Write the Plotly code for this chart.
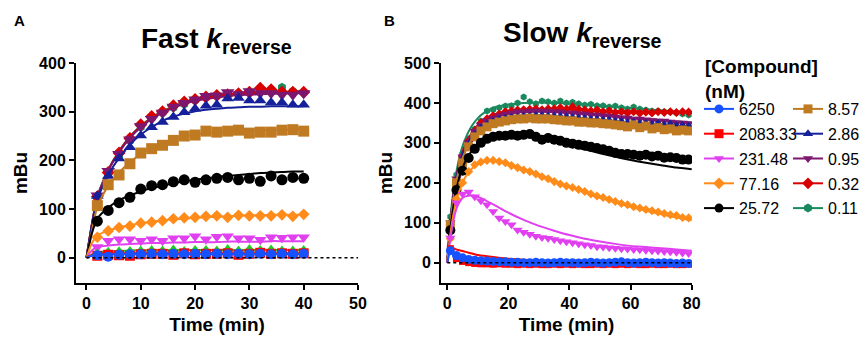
import plotly.graph_objects as go

# ---------------- data ----------------
# Panel A (Fast k_reverse): time points and measured values
t_a = [2, 4, 6, 8, 10, 12, 14, 16, 18, 20, 22, 24, 26, 28, 30, 32, 34, 36, 38, 40]
a_6250 = [5, 2, 6, 7, 7, 8, 7, 8, 7, 8, 7, 8, 7, 8, 7, 8, 7, 8, 7, 8]
a_2083 = [4, 6, 5, 4, 7, 8, 8, 6, 9, 7, 8, 8, 9, 6, 8, 10, 8, 9, 8, 9]
a_green = [9, 12, 13, 14, 15, 16, 15, 17, 14, 16, 16, 15, 18, 15, 18, 16, 17, 15, 15, 16]
a_231 = [22, 35, 38, 38, 35, 38, 35, 40, 40, 44, 38, 43, 44, 40, 40, 37, 42, 41, 42, 42]
a_77 = [42, 55, 62, 65, 71, 73, 76, 80, 82, 83, 85, 86, 83, 87, 86, 86, 86, 88, 85, 89]
a_25 = [75, 97, 113, 124, 141, 148, 150, 156, 160, 155, 160, 163, 165, 160, 163, 157, 168, 160, 165, 163]
a_8 = [107, 150, 170, 193, 215, 224, 231, 241, 250, 252, 260, 258, 260, 262, 256, 258, 258, 262, 263, 260]
a_286 = [127, 168, 204, 227, 251, 268, 279, 289, 299, 306, 312, 314, 327, 328, 323, 323, 319, 319, 314, 314]
a_095 = [128, 178, 213, 243, 270, 285, 298, 310, 318, 325, 332, 333, 340, 336, 342, 338, 338, 335, 335, 338]
a_032 = [125, 175, 215, 245, 273, 290, 300, 312, 320, 325, 330, 333, 335, 337, 340, 348, 345, 340, 340, 340]
a_011 = [122, 172, 210, 240, 268, 287, 298, 308, 315, 323, 330, 333, 335, 338, 340, 343, 342, 350, 342, 340]

# Panel A fitted curves
t_fa = [0, 1, 2, 4, 6, 8, 10, 12, 14, 16, 18, 20, 22, 24, 26, 28, 30, 32, 34, 36, 38, 40]
fa_6250 = [0, 4, 6, 7, 7, 7, 7, 7, 7, 7, 7, 7, 7, 7, 7, 7, 7, 7, 7, 7, 7, 7]
fa_2083 = [0, 5, 8, 9, 9, 9, 9, 9, 9, 9, 9, 9, 9, 9, 9, 9, 9, 9, 9, 9, 9, 9]
fa_green = [0, 7, 11, 13, 14, 15, 15, 15, 16, 16, 16, 16, 16, 16, 16, 16, 16, 16, 16, 16, 16, 16]
fa_231 = [0, 15, 22, 25, 27, 28, 29, 30, 30, 31, 31, 32, 32, 32, 33, 33, 33, 33, 34, 34, 34, 34]
fa_77 = [0, 30, 45, 56, 62, 67, 71, 74, 77, 79, 80, 82, 83, 84, 85, 86, 87, 87, 88, 88, 88, 88]
fa_25 = [0, 50, 80, 103, 118, 128, 136, 143, 148, 153, 157, 160, 163, 166, 168, 170, 172, 174, 175, 176, 177, 177]
fa_8 = [0, 55, 105, 148, 175, 196, 213, 226, 236, 243, 249, 253, 256, 258, 260, 261, 262, 262, 263, 263, 263, 263]
fa_286 = [0, 66, 120, 170, 205, 232, 253, 268, 281, 290, 296, 301, 304, 306, 308, 309, 310, 310, 311, 311, 311, 311]
fa_095 = [0, 68, 124, 179, 216, 246, 268, 285, 298, 308, 316, 322, 326, 329, 332, 334, 335, 336, 337, 337, 338, 338]
fa_032 = [0, 69, 125, 180, 218, 248, 270, 287, 300, 310, 318, 324, 328, 331, 334, 336, 337, 338, 339, 340, 340, 341]
fa_011 = [0, 70, 126, 181, 219, 249, 271, 288, 301, 311, 319, 325, 329, 332, 335, 337, 338, 339, 340, 341, 341, 342]

# Panel B (Slow k_reverse): time points and measured values
t_b = [1, 3, 5, 7, 9, 11, 13, 15, 17, 19, 21, 23, 25, 27, 29, 31, 33, 35, 37, 39,
       41, 43, 45, 47, 49, 51, 53, 55, 57, 59, 61, 63, 65, 67, 69, 71, 73, 75, 77, 79]
b_6250 = [30, 18, 12, 8, 6, 5, 4, 3, 2, 2, 1, 1, 0, 0, 1, 0, -1, 0, 1, 0,
          0, -1, 0, 1, 0, -1, 0, 1, 2, 0, -1, 0, 1, 0, -1, 0, -1, -2, -1, -2]
b_2083 = [35, 10, 3, 0, -2, -3, -3, -4, -3, -4, -4, -5, -4, -5, -4, -5, -5, -4, -5, -4,
          -5, -4, -5, -5, -4, -5, -4, -5, -4, -5, -4, -5, -5, -4, -5, -5, -4, -5, -5, -4]
b_231 = [62, 150, 172, 177, 165, 155, 145, 128, 112, 103, 95, 82, 76, 71, 66, 63, 61, 58, 55, 52,
         50, 47, 45, 43, 40, 39, 37, 36, 35, 34, 33, 32, 31, 30, 29, 28, 27, 26, 24, 23]
b_77 = [60, 160, 200, 228, 245, 252, 256, 256, 253, 250, 243, 238, 232, 228, 222, 215, 210, 203, 197, 192,
        188, 183, 178, 172, 167, 163, 158, 153, 148, 145, 140, 137, 133, 130, 127, 123, 120, 118, 113, 112]
b_25 = [81, 182, 230, 262, 285, 300, 310, 315, 318, 318, 320, 318, 320, 322, 315, 308, 312, 308, 305, 300,
        298, 295, 293, 290, 287, 284, 280, 275, 272, 272, 270, 268, 270, 266, 268, 263, 264, 262, 258, 258]
b_8 = [95, 200, 250, 290, 315, 330, 340, 348, 352, 355, 358, 360, 360, 362, 360, 360, 360, 358, 357, 355,
       355, 352, 352, 350, 350, 348, 347, 345, 343, 340, 345, 338, 342, 335, 338, 333, 335, 330, 332, 330]
b_286 = [100, 205, 258, 295, 320, 338, 348, 355, 360, 362, 365, 366, 368, 368, 370, 370, 368, 368, 367, 366,
         365, 363, 362, 360, 360, 358, 358, 355, 355, 352, 352, 350, 350, 348, 350, 346, 348, 344, 345, 343]
b_095 = [100, 210, 265, 300, 330, 345, 355, 362, 368, 372, 375, 378, 378, 380, 380, 380, 380, 378, 378, 375,
         375, 373, 372, 370, 370, 368, 367, 365, 363, 362, 360, 360, 358, 356, 355, 355, 352, 350, 350, 348]
b_032 = [100, 205, 265, 305, 330, 350, 360, 368, 372, 378, 380, 382, 383, 384, 385, 383, 385, 385, 388, 384,
         390, 384, 382, 380, 382, 378, 380, 376, 378, 375, 378, 374, 377, 375, 378, 376, 378, 376, 378, 377]
b_011 = [115, 220, 272, 310, 335, 355, 380, 383, 388, 392, 393, 400, 415, 403, 398, 405, 403, 400, 405, 400,
         402, 398, 395, 397, 393, 393, 390, 392, 388, 385, 390, 385, 382, 380, 380, 378, 377, 375, 372, 370]

# Panel B fitted curves
t_fb = [0, 1, 2, 3, 4, 5, 6, 8, 10, 12, 15, 20, 25, 30, 35, 40, 45, 50, 55, 60, 65, 70, 75, 80]
fb_6250 = [0, 28, 22, 17, 13, 10, 8, 5, 3, 2, 1, 0, 0, 0, 0, 0, 0, 0, 0, 0, 0, 0, 0, 0]
fb_2083 = [40, 38, 36, 33, 31, 29, 27, 23, 19, 17, 14, 10, 7, 5, 3.5, 2.5, 2, 1, 1, 0.5, 0, 0, 0, 0]
fb_231 = [0, 60, 105, 135, 152, 162, 166, 168, 165, 158, 146, 125, 107, 92, 80, 69, 60, 53, 47, 42, 39, 36, 33, 30]
fb_77 = [0, 70, 120, 155, 180, 200, 215, 235, 247, 253, 255, 248, 235, 220, 204, 190, 176, 163, 151, 140, 130, 121, 113, 106]
fb_25 = [0, 85, 140, 185, 215, 237, 255, 280, 297, 307, 315, 318, 316, 310, 302, 293, 284, 274, 265, 257, 250, 244, 238, 234]
fb_8 = [0, 95, 160, 205, 238, 262, 280, 308, 325, 337, 348, 356, 359, 359, 357, 354, 351, 347, 344, 340, 337, 334, 331, 328]
fb_286 = [0, 98, 165, 210, 245, 270, 288, 315, 333, 345, 356, 364, 367, 368, 366, 363, 360, 357, 354, 351, 348, 346, 343, 341]
fb_095 = [0, 100, 168, 215, 250, 276, 295, 322, 340, 352, 364, 373, 377, 378, 377, 375, 372, 369, 366, 363, 360, 357, 354, 351]
fb_032 = [0, 100, 168, 215, 252, 278, 297, 325, 345, 358, 370, 378, 382, 384, 384, 383, 382, 381, 380, 379, 378, 378, 377, 377]
fb_011 = [0, 110, 180, 228, 265, 292, 312, 342, 362, 375, 388, 396, 400, 401, 400, 398, 396, 393, 390, 387, 384, 381, 378, 375]

# Legend labels
conc_labels = ["6250", "2083.33", "231.48", "77.16", "25.72", "8.57", "2.86", "0.95", "0.32", "0.11"]

# ---------------- styles ----------------
colors = ["#1652FF", "#FF0000", "#E040F0", "#FF8C1A", "#000000",
          "#BF7A22", "#14219A", "#7D166E", "#D80000", "#1A8A5E"]
symbols = ["circle", "square", "triangle-down", "diamond", "circle",
           "square", "triangle-up", "triangle-down", "diamond", "hexagon"]
green_col = "#22CC22"

a_data = [a_6250, a_2083, a_231, a_77, a_25, a_8, a_286, a_095, a_032, a_011]
a_fits = [fa_6250, fa_2083, fa_231, fa_77, fa_25, fa_8, fa_286, fa_095, fa_032, fa_011]
b_data = [b_6250, b_2083, b_231, b_77, b_25, b_8, b_286, b_095, b_032, b_011]
b_fits = [fb_6250, fb_2083, fb_231, fb_77, fb_25, fb_8, fb_286, fb_095, fb_032, fb_011]

A_SIZE = [10, 10, 11, 9, 11, 11, 11, 12, 10, 9]
B_SIZE = [9, 7, 9, 7, 10, 9, 8, 9, 7, 7]

fig = go.Figure()

# draw order: 0.11 first ... 6250 last (so blue circles end on top)
order = list(range(9, -1, -1))

# ---- Panel A ----
for i in order:
    fig.add_trace(go.Scatter(x=t_a, y=a_data[i], mode="markers", xaxis="x", yaxis="y",
                             marker=dict(color=colors[i], symbol=symbols[i], size=A_SIZE[i],
                                         line=dict(width=0)),
                             showlegend=False, hoverinfo="skip"))
    fig.add_trace(go.Scatter(x=t_fa, y=a_fits[i], mode="lines", xaxis="x", yaxis="y",
                             line=dict(color=colors[i], width=2, shape="spline", smoothing=0.6),
                             showlegend=False, hoverinfo="skip"))
    if i == 2:
        fig.add_trace(go.Scatter(x=t_a, y=a_green, mode="markers", xaxis="x", yaxis="y",
                                 marker=dict(color=green_col, symbol="triangle-up", size=10,
                                             line=dict(width=0)),
                                 showlegend=False, hoverinfo="skip"))
        fig.add_trace(go.Scatter(x=t_fa, y=fa_green, mode="lines", xaxis="x", yaxis="y",
                                 line=dict(color=green_col, width=2, shape="spline", smoothing=0.6),
                                 showlegend=False, hoverinfo="skip"))

# ---- Panel B ----
for i in order:
    fig.add_trace(go.Scatter(x=t_b, y=b_data[i], mode="markers", xaxis="x2", yaxis="y2",
                             marker=dict(color=colors[i], symbol=symbols[i], size=B_SIZE[i],
                                         line=dict(width=0)),
                             showlegend=False, hoverinfo="skip"))
    fig.add_trace(go.Scatter(x=t_fb, y=b_fits[i], mode="lines", xaxis="x2", yaxis="y2",
                             line=dict(color=colors[i], width=2, shape="spline", smoothing=0.5),
                             showlegend=False, hoverinfo="skip"))

# ---- Legend entries (two columns) ----
for i in range(10):
    fig.add_trace(go.Scatter(x=[None], y=[None], mode="lines+markers", xaxis="x2", yaxis="y2",
                             name=conc_labels[i], legendgroup=conc_labels[i],
                             legend="legend" if i < 5 else "legend2",
                             marker=dict(color=colors[i], symbol=symbols[i], size=9, line=dict(width=0)),
                             line=dict(color=colors[i], width=2),
                             showlegend=True))

FONT = "Liberation Sans, Arial, sans-serif"
W, H = 861, 337


def px(xp):
    return xp / W


def py(yp):
    return 1 - yp / H


axis_common = dict(showline=True, linewidth=2, linecolor="black", ticks="outside", ticklen=5,
                   tickwidth=2, tickcolor="black", showgrid=False, zeroline=False, automargin=False,
                   tickfont=dict(family=FONT, size=16, color="black", weight="bold"),
                   title_font=dict(family=FONT, size=19, color="black", weight="bold"))


def note(text, x, y, size, xanchor="center", yanchor="middle", align="center"):
    return dict(text=text, x=px(x), y=py(y), xref="paper", yref="paper", showarrow=False,
                xanchor=xanchor, yanchor=yanchor, align=align,
                font=dict(family=FONT, size=size, color="black"))


fig.update_layout(
    width=W, height=H,
    margin=dict(l=0, r=0, t=0, b=0, pad=0, autoexpand=False),
    paper_bgcolor="white", plot_bgcolor="white",
    font=dict(family=FONT, color="black"),
    xaxis=dict(domain=[px(76), px(358)], range=[-1.93, 50], anchor="y",
               tickvals=[0, 10, 20, 30, 40, 50], title=dict(text="Time (min)", standoff=6),
               **axis_common),
    yaxis=dict(domain=[py(283), py(63)], range=[-52, 400], anchor="x",
               tickvals=[0, 100, 200, 300, 400], title=dict(text="mBu", standoff=6),
               **axis_common),
    xaxis2=dict(domain=[px(441), px(692)], range=[-2.06, 80.1], anchor="y2",
                tickvals=[0, 20, 40, 60, 80], title=dict(text="Time (min)", standoff=6),
                **axis_common),
    yaxis2=dict(domain=[py(283), py(63)], range=[-51, 500], anchor="x2",
                tickvals=[0, 100, 200, 300, 400, 500], title=dict(text="mBu", standoff=6),
                **axis_common),
    legend=dict(x=px(699), y=py(92), xanchor="left", yanchor="top",
                font=dict(family=FONT, size=16, color="black"),
                traceorder="grouped", tracegroupgap=1, bgcolor="rgba(0,0,0,0)",
                itemclick=False, itemdoubleclick=False),
    legend2=dict(x=px(788), y=py(92), xanchor="left", yanchor="top",
                 font=dict(family=FONT, size=16, color="black"),
                 traceorder="grouped", tracegroupgap=1, bgcolor="rgba(0,0,0,0)",
                 itemclick=False, itemdoubleclick=False),
    shapes=[
        dict(type="line", xref="x", yref="y", x0=0, x1=50, y0=0, y1=0,
             line=dict(color="black", width=1.5, dash="dot")),
        dict(type="line", xref="x2", yref="y2", x0=0, x1=80, y0=0, y1=0,
             line=dict(color="black", width=1.5, dash="dot")),
    ],
    annotations=[
        note("<b>A</b>", 19, 20, 15),
        note("<b>B</b>", 389, 20, 15),
        note("<b>Fast <i>k</i><sub>reverse</sub></b>", 217, 41, 28),
        note("<b>Slow <i>k</i><sub>reverse</sub></b>", 582, 34, 28),
        note("<b>[Compound]<br>(nM)</b>", 703, 54, 19, xanchor="left", yanchor="top", align="left"),
    ],
)

fig.write_html("out.html", config={"displayModeBar": False, "staticPlot": True},
               post_script="document.body.style.margin='0';")
